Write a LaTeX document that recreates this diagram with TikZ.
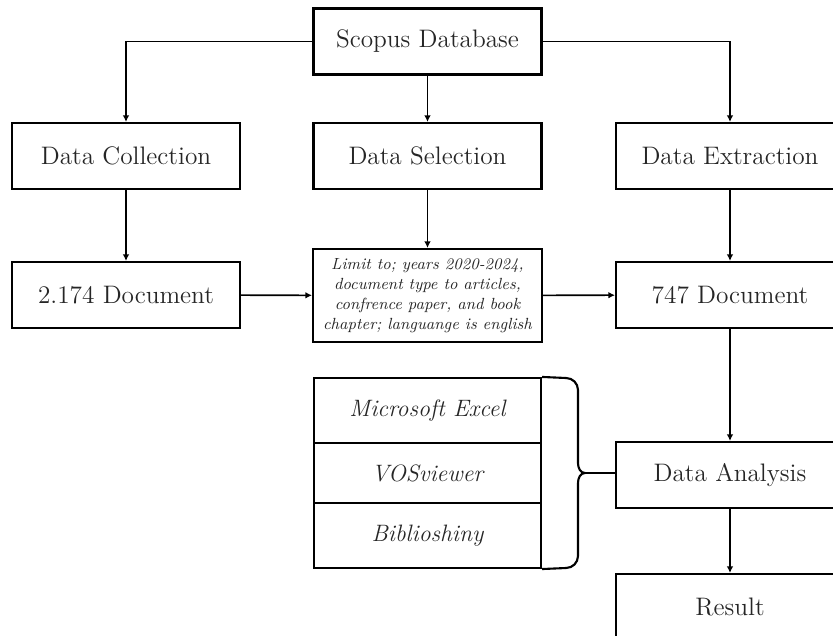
\documentclass[tikz,border=0pt]{standalone}
\usepackage{tikz}
\usetikzlibrary{positioning,arrows.meta}

\begin{document}
\begin{tikzpicture}[x=0.02cm,y=-0.02cm,
  block/.style={rectangle,draw,line width=1.2pt,minimum width=4.56cm,minimum height=1.32cm,
    align=center,font=\fontsize{14.4}{17}\selectfont,text=black!85},
  filter/.style={rectangle,draw,line width=1.2pt,minimum width=4.58cm,minimum height=1.86cm,
    align=center,font=\fontsize{9.2}{11.4}\selectfont\itshape,text=black!85},
  tool/.style={rectangle,draw,line width=1.2pt,minimum width=4.54cm,
    font=\fontsize{13.5}{16}\selectfont\itshape,text=black!85},
  link/.style={line width=0.9pt,-{Latex[length=1.3mm,width=1.3mm]}}]
\useasboundingbox (0,0) rectangle (833,636);
\clip (0,0) rectangle (833,636);
\node[block] (scopus)   at (427.5,41.5) {Scopus Database};
\node[block] (collect)  at (126,156)    {Data Collection};
\node[block] (select)   at (427.5,156)  {Data Selection};
\node[block] (extract)  at (730,156)    {Data Extraction};
\node[block] (doc1)     at (126,295)    {2.174 Document};
\node[filter] (limit)   at (427.5,295.5)
  {Limit to; years 2020-2024,\\document type to articles,\\confrence paper, and book\\chapter; languange is english};
\node[block] (doc2)     at (730,295)    {747 Document};
\node[block] (analysis) at (730,475)    {Data Analysis};
\node[block] (result)   at (730,607)    {Result};
\node[tool,minimum height=1.3cm] (excel) at (427.5,410.5) {Microsoft Excel};
\node[tool,minimum height=1.2cm] (vos)   at (427.5,473)   {VOSviewer};
\node[tool,minimum height=1.3cm] (biblio) at (427.5,535.5) {Biblioshiny};
\draw[link] (scopus.west) -| (collect.north);
\draw[link] (scopus) -- (select);
\draw[link] (scopus.east) -| (extract.north);
\draw[link] (collect) -- (doc1);
\draw[link] (select) -- (limit);
\draw[link] (extract) -- (doc2);
\draw[link] (doc1) -- (limit);
\draw[link] (limit) -- (doc2);
\draw[link] (doc2) -- (analysis);
\draw[link] (analysis) -- (result);
% brace round the tools
\coordinate (tip) at (585,473);
\draw[line width=1.2pt] (excel.north east) -- (566,378) to[out=0,in=90] (578,390)
  -- (578,463) to[out=-90,in=180] (tip) to[out=180,in=90] (578,483)
  -- (578,556) to[out=-90,in=0] (566,568) -- (biblio.south east);
\draw[line width=1.4pt] (tip) -- (analysis.west |- tip);
\end{tikzpicture}
\end{document}
